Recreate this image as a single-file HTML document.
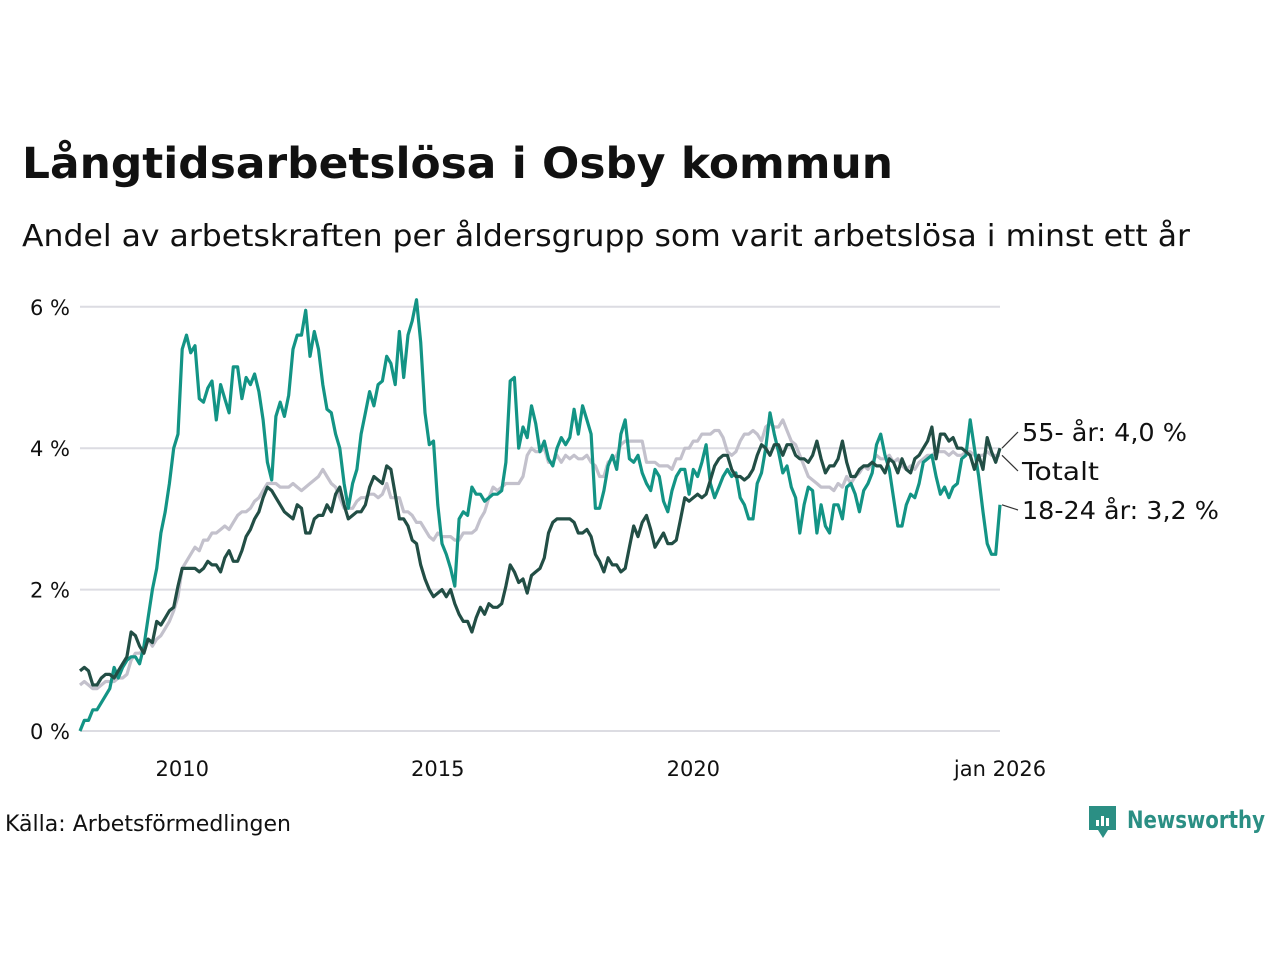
<!DOCTYPE html>
<html><head><meta charset="utf-8"><style>
body{margin:0;background:#fff;width:1280px;height:960px;overflow:hidden;font-family:"DejaVu Sans","Liberation Sans",sans-serif;}
</style></head><body>
<svg id="chart" width="1280" height="960" xmlns="http://www.w3.org/2000/svg" font-family="DejaVu Sans, Liberation Sans, sans-serif">
<text x="22" y="178" font-size="43" font-weight="bold" fill="#111" textLength="871" lengthAdjust="spacingAndGlyphs">Långtidsarbetslösa i Osby kommun</text>
<text x="22" y="246" font-size="30" fill="#111" textLength="1168" lengthAdjust="spacingAndGlyphs">Andel av arbetskraften per åldersgrupp som varit arbetslösa i minst ett år</text>
<g id="grid"></g><g id="lines"></g><g id="labels"></g>
<text x="5" y="831" font-size="22" fill="#111" textLength="286" lengthAdjust="spacingAndGlyphs">Källa: Arbetsförmedlingen</text>
<g>
<path d="M1089 806 h27 v24 h-8 l-5 8 l-5 -8 h-9 z" fill="#2b8f84"/>
<rect x="1096" y="820" width="3" height="6" fill="#fff"/><rect x="1101" y="816" width="3" height="10" fill="#fff"/><rect x="1106" y="818" width="3" height="8" fill="#fff"/>
<text x="1127" y="828" font-size="24" font-weight="bold" fill="#2b8f84" textLength="138" lengthAdjust="spacingAndGlyphs">Newsworthy</text>
</g>
</svg>
<script>
const years=[2010,2015,2020];
const yTicks=[0,2,4,6];
const tickLabels=["0 %","2 %","4 %","6 %"];
const totalt=[0.65,0.7,0.65,0.6,0.6,0.65,0.7,0.7,0.7,0.75,0.75,0.8,
1.0,1.1,1.1,1.15,1.3,1.2,1.3,1.35,1.45,1.55,1.7,1.9,
2.3,2.4,2.5,2.6,2.55,2.7,2.7,2.8,2.8,2.85,2.9,2.85,
2.95,3.05,3.1,3.1,3.15,3.25,3.3,3.4,3.5,3.5,3.5,3.45,
3.45,3.45,3.5,3.45,3.4,3.45,3.5,3.55,3.6,3.7,3.6,3.5,
3.45,3.3,3.15,3.15,3.15,3.25,3.3,3.3,3.35,3.35,3.3,3.35,
3.5,3.3,3.3,3.3,3.1,3.1,3.05,2.95,2.95,2.85,2.75,2.7,
2.8,2.75,2.75,2.75,2.7,2.7,2.8,2.8,2.8,2.85,3.0,3.1,
3.3,3.45,3.4,3.45,3.5,3.5,3.5,3.5,3.6,3.9,4.0,3.95,
3.95,4.0,3.8,3.8,3.9,3.8,3.9,3.85,3.9,3.85,3.85,3.9,
3.8,3.75,3.6,3.6,3.8,3.85,3.9,4.05,4.1,4.1,4.1,4.1,
4.1,3.8,3.8,3.8,3.75,3.75,3.75,3.7,3.85,3.85,4.0,4.0,
4.1,4.1,4.2,4.2,4.2,4.25,4.25,4.15,3.95,3.9,3.95,4.1,
4.2,4.2,4.25,4.2,4.1,4.3,4.35,4.3,4.3,4.4,4.25,4.1,
4.05,3.9,3.75,3.6,3.55,3.5,3.45,3.45,3.45,3.4,3.5,3.45,
3.6,3.5,3.6,3.65,3.75,3.7,3.8,3.9,3.85,3.85,3.9,3.8,
3.85,3.75,3.7,3.75,3.7,3.8,3.85,3.9,3.9,3.95,3.95,3.95,
3.9,3.95,3.9,3.9,3.95,3.95,3.9,3.9,3.9,3.95,3.9,3.9,3.9];
const age55=[0.85,0.9,0.85,0.65,0.65,0.75,0.8,0.8,0.75,0.85,0.95,1.05,
1.4,1.35,1.2,1.1,1.3,1.25,1.55,1.5,1.6,1.7,1.75,2.05,
2.3,2.3,2.3,2.3,2.25,2.3,2.4,2.35,2.35,2.25,2.45,2.55,
2.4,2.4,2.55,2.75,2.85,3.0,3.1,3.3,3.45,3.4,3.3,3.2,
3.1,3.05,3.0,3.2,3.15,2.8,2.8,3.0,3.05,3.05,3.2,3.1,
3.35,3.45,3.2,3.0,3.05,3.1,3.1,3.2,3.45,3.6,3.55,3.5,
3.75,3.7,3.35,3.0,3.0,2.9,2.7,2.65,2.35,2.15,2.0,1.9,
1.95,2.0,1.9,2.0,1.8,1.65,1.55,1.55,1.4,1.6,1.75,1.65,
1.8,1.75,1.75,1.8,2.05,2.35,2.25,2.1,2.15,1.95,2.2,2.25,
2.3,2.45,2.8,2.95,3.0,3.0,3.0,3.0,2.95,2.8,2.8,2.85,
2.75,2.5,2.4,2.25,2.45,2.35,2.35,2.25,2.3,2.6,2.9,2.75,
2.95,3.05,2.85,2.6,2.7,2.8,2.65,2.65,2.7,3.0,3.3,3.25,
3.3,3.35,3.3,3.35,3.55,3.75,3.85,3.9,3.9,3.7,3.6,3.6,
3.55,3.6,3.7,3.9,4.05,4.0,3.9,4.05,4.05,3.9,4.05,4.05,
3.9,3.85,3.85,3.8,3.9,4.1,3.85,3.65,3.75,3.75,3.85,4.1,
3.8,3.6,3.6,3.7,3.75,3.75,3.8,3.75,3.75,3.65,3.85,3.8,
3.65,3.85,3.7,3.65,3.85,3.9,4.0,4.1,4.3,3.85,4.2,4.2,
4.1,4.15,4.0,4.0,3.95,3.9,3.7,3.9,3.7,4.15,3.95,3.8,4.0];
const age1824=[0,0.15,0.15,0.3,0.3,0.4,0.5,0.6,0.9,0.75,0.9,1.0,
1.05,1.05,0.95,1.2,1.6,2.0,2.3,2.8,3.1,3.5,4.0,4.2,
5.4,5.6,5.35,5.45,4.7,4.65,4.85,4.95,4.4,4.9,4.7,4.5,
5.15,5.15,4.7,5.0,4.9,5.05,4.8,4.4,3.8,3.55,4.45,4.65,
4.45,4.75,5.4,5.6,5.6,5.95,5.3,5.65,5.4,4.9,4.55,4.5,
4.2,4.0,3.5,3.15,3.5,3.7,4.2,4.5,4.8,4.6,4.9,4.95,
5.3,5.2,4.9,5.65,5.0,5.6,5.8,6.1,5.5,4.5,4.05,4.1,
3.2,2.65,2.5,2.3,2.05,3.0,3.1,3.05,3.45,3.35,3.35,3.25,
3.3,3.35,3.35,3.4,3.8,4.95,5.0,4.0,4.3,4.15,4.6,4.35,
3.95,4.1,3.85,3.75,4.0,4.15,4.05,4.15,4.55,4.2,4.6,4.4,
4.2,3.15,3.15,3.4,3.75,3.9,3.7,4.2,4.4,3.85,3.8,3.9,
3.65,3.5,3.4,3.7,3.6,3.25,3.1,3.4,3.6,3.7,3.7,3.35,
3.7,3.6,3.8,4.05,3.5,3.3,3.45,3.6,3.7,3.6,3.65,3.3,
3.2,3.0,3.0,3.5,3.65,4.0,4.5,4.2,3.95,3.65,3.75,3.45,
3.3,2.8,3.2,3.45,3.4,2.8,3.2,2.9,2.8,3.2,3.2,3.0,
3.45,3.5,3.35,3.1,3.4,3.5,3.65,4.05,4.2,3.9,3.7,3.3,
2.9,2.9,3.2,3.35,3.3,3.5,3.8,3.85,3.9,3.6,3.35,3.45,
3.3,3.45,3.5,3.85,3.9,4.4,4.0,3.6,3.1,2.65,2.5,2.5,3.2];
const NS="http://www.w3.org/2000/svg";
const x0=80,x1=1000,n=totalt.length;
function xScale(i){return x0+(x1-x0)*i/(n-1);}
function xYear(y){return xScale((y-2008)*12);}
function yScale(v){return 731-v*70.7;}
function mk(tag,attrs,parent){const e=document.createElementNS(NS,tag);for(const k in attrs)e.setAttribute(k,attrs[k]);parent.appendChild(e);return e;}
const grid=document.getElementById('grid'),lines=document.getElementById('lines'),labels=document.getElementById('labels');
yTicks.forEach((t,i)=>{
 const l=mk('line',{x1:x0,x2:x1,y1:yScale(t),y2:yScale(t),stroke:'#dcdce2','stroke-width':2},grid);
 
 
 const tx=mk('text',{x:70,y:yScale(t)+8,'font-size':21,fill:'#111','text-anchor':'end'},grid);
 
 
 tx.textContent=tickLabels[i];
});
years.forEach(y=>{
 const tx=mk('text',{x:xYear(y),y:776,'font-size':21,fill:'#111','text-anchor':'middle'},grid);
 
 
 tx.textContent=String(y);
});
const last=mk('text',{x:x1,y:776,'font-size':21,fill:'#111','text-anchor':'middle'},grid);


last.textContent='jan 2026';
function line(data,color,name){
 const p=mk('path',{d:data.map((v,i)=>(i?'L':'M')+xScale(i).toFixed(1)+' '+yScale(v).toFixed(1)).join(''),fill:'none',stroke:color,'stroke-width':3.2,'stroke-linejoin':'round'},lines);
 
 
}
line(totalt,'#c3c1cc','line-totalt');
line(age1824,'#139485','line-18-24');
line(age55,'#224e45','line-55-plus');
function label(v,ly,text,name,w){
 const c=mk('path',{d:`M${x1+2} ${yScale(v)} L${x1+18} ${ly}`,stroke:'#333','stroke-width':1.2,fill:'none'},labels);
 
 
 const t=mk('text',{x:x1+22,y:ly+9,'font-size':25,fill:'#111',textLength:w,lengthAdjust:'spacingAndGlyphs'},labels);
 
 
 t.textContent=text;
}
label(age55[n-1],432,'55- år: 4,0 %','label-55-plus',165);
label(totalt[n-1],471,'Totalt','label-totalt',77);
label(age1824[n-1],510,'18-24 år: 3,2 %','label-18-24',197);
</script>
</body></html>
